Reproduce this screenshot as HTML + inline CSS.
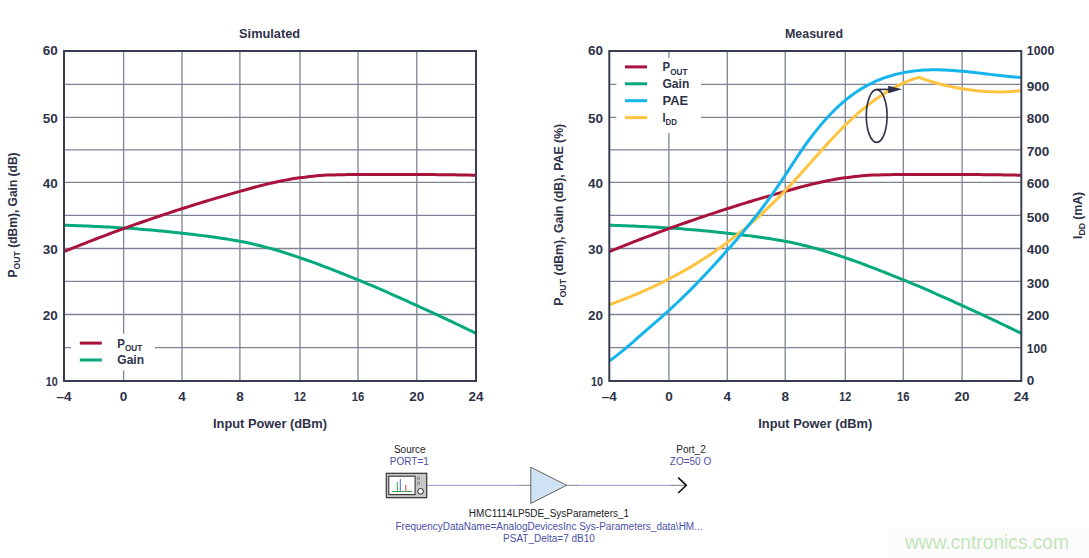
<!DOCTYPE html>
<html><head><meta charset="utf-8"><title>HMC1114 Simulated vs Measured</title>
<style>html,body{margin:0;padding:0;background:#fff;}svg{display:block;}</style>
</head><body>
<svg width="1089" height="558" viewBox="0 0 1089 558">
<rect width="1089" height="558" fill="#ffffff"/>
<defs><clipPath id="c1"><rect x="64.0" y="51.0" width="412.0" height="330.0"/></clipPath><clipPath id="c2"><rect x="609.3" y="51.0" width="412.0" height="330.0"/></clipPath></defs>
<g stroke="#7e8294" stroke-width="1.3" fill="none">
<line x1="123.60" y1="51.00" x2="123.60" y2="381.00"/>
<line x1="182.00" y1="51.00" x2="182.00" y2="381.00"/>
<line x1="239.90" y1="51.00" x2="239.90" y2="381.00"/>
<line x1="300.00" y1="51.00" x2="300.00" y2="381.00"/>
<line x1="358.00" y1="51.00" x2="358.00" y2="381.00"/>
<line x1="416.80" y1="51.00" x2="416.80" y2="381.00"/>
<line x1="64.00" y1="84.40" x2="476.00" y2="84.40"/>
<line x1="64.00" y1="117.40" x2="476.00" y2="117.40"/>
<line x1="64.00" y1="149.90" x2="476.00" y2="149.90"/>
<line x1="64.00" y1="182.40" x2="476.00" y2="182.40"/>
<line x1="64.00" y1="215.40" x2="476.00" y2="215.40"/>
<line x1="64.00" y1="248.50" x2="476.00" y2="248.50"/>
<line x1="64.00" y1="281.30" x2="476.00" y2="281.30"/>
<line x1="64.00" y1="314.50" x2="476.00" y2="314.50"/>
<line x1="64.00" y1="347.60" x2="476.00" y2="347.60"/>
</g>
<g stroke="#7e8294" stroke-width="1.3" fill="none">
<line x1="668.90" y1="51.00" x2="668.90" y2="381.00"/>
<line x1="727.30" y1="51.00" x2="727.30" y2="381.00"/>
<line x1="785.20" y1="51.00" x2="785.20" y2="381.00"/>
<line x1="845.30" y1="51.00" x2="845.30" y2="381.00"/>
<line x1="903.30" y1="51.00" x2="903.30" y2="381.00"/>
<line x1="962.10" y1="51.00" x2="962.10" y2="381.00"/>
<line x1="609.30" y1="84.40" x2="1021.30" y2="84.40"/>
<line x1="609.30" y1="117.40" x2="1021.30" y2="117.40"/>
<line x1="609.30" y1="149.90" x2="1021.30" y2="149.90"/>
<line x1="609.30" y1="182.40" x2="1021.30" y2="182.40"/>
<line x1="609.30" y1="215.40" x2="1021.30" y2="215.40"/>
<line x1="609.30" y1="248.50" x2="1021.30" y2="248.50"/>
<line x1="609.30" y1="281.30" x2="1021.30" y2="281.30"/>
<line x1="609.30" y1="314.50" x2="1021.30" y2="314.50"/>
<line x1="609.30" y1="347.60" x2="1021.30" y2="347.60"/>
</g>
<rect x="71" y="333.7" width="84" height="36.8" fill="#fff"/>
<rect x="616.4" y="57.7" width="84.6" height="75.1" fill="#fff"/>
<g clip-path="url(#c1)">
<path d="M64.00,225.28 L67.46,225.36 L70.92,225.45 L74.39,225.56 L77.85,225.68 L81.31,225.80 L84.77,225.94 L88.24,226.09 L91.70,226.24 L95.16,226.40 L98.62,226.57 L102.08,226.75 L105.55,226.93 L109.01,227.12 L112.47,227.31 L115.93,227.51 L119.39,227.71 L122.86,227.91 L126.32,228.13 L129.78,228.36 L133.24,228.60 L136.71,228.86 L140.17,229.13 L143.63,229.42 L147.09,229.72 L150.55,230.03 L154.02,230.34 L157.48,230.67 L160.94,231.01 L164.40,231.36 L167.87,231.71 L171.33,232.07 L174.79,232.44 L178.25,232.81 L181.71,233.18 L185.18,233.57 L188.64,233.96 L192.10,234.36 L195.56,234.77 L199.03,235.20 L202.49,235.63 L205.95,236.08 L209.41,236.54 L212.87,237.02 L216.34,237.51 L219.80,238.02 L223.26,238.54 L226.72,239.08 L230.18,239.64 L233.65,240.21 L237.11,240.81 L240.57,241.42 L244.03,242.08 L247.50,242.79 L250.96,243.55 L254.42,244.35 L257.88,245.19 L261.34,246.06 L264.81,246.96 L268.27,247.88 L271.73,248.81 L275.19,249.79 L278.66,250.81 L282.12,251.87 L285.58,252.97 L289.04,254.09 L292.50,255.23 L295.97,256.39 L299.43,257.57 L302.89,258.76 L306.35,259.97 L309.82,261.20 L313.28,262.45 L316.74,263.71 L320.20,265.00 L323.66,266.30 L327.13,267.62 L330.59,268.95 L334.05,270.29 L337.51,271.65 L340.97,273.01 L344.44,274.39 L347.90,275.77 L351.36,277.17 L354.82,278.57 L358.29,279.97 L361.75,281.39 L365.21,282.82 L368.67,284.27 L372.13,285.74 L375.60,287.22 L379.06,288.71 L382.52,290.21 L385.98,291.72 L389.45,293.25 L392.91,294.78 L396.37,296.32 L399.83,297.87 L403.29,299.42 L406.76,300.98 L410.22,302.54 L413.68,304.11 L417.14,305.67 L420.61,307.25 L424.07,308.82 L427.53,310.41 L430.99,312.00 L434.45,313.60 L437.92,315.21 L441.38,316.83 L444.84,318.45 L448.30,320.08 L451.76,321.71 L455.23,323.35 L458.69,325.00 L462.15,326.66 L465.61,328.32 L469.08,329.99 L472.54,331.67 L476.00,333.35" fill="none" stroke="#05a97b" stroke-width="3" stroke-linejoin="round" stroke-linecap="butt"/>
<path d="M64.00,251.64 L67.46,250.23 L70.92,248.82 L74.39,247.43 L77.85,246.05 L81.31,244.67 L84.77,243.30 L88.24,241.95 L91.70,240.60 L95.16,239.26 L98.62,237.93 L102.08,236.61 L105.55,235.30 L109.01,234.00 L112.47,232.71 L115.93,231.43 L119.39,230.16 L122.86,228.90 L126.32,227.65 L129.78,226.41 L133.24,225.17 L136.71,223.95 L140.17,222.73 L143.63,221.52 L147.09,220.32 L150.55,219.13 L154.02,217.94 L157.48,216.77 L160.94,215.60 L164.40,214.45 L167.87,213.30 L171.33,212.16 L174.79,211.03 L178.25,209.91 L181.71,208.80 L185.18,207.70 L188.64,206.60 L192.10,205.51 L195.56,204.43 L199.03,203.36 L202.49,202.29 L205.95,201.23 L209.41,200.18 L212.87,199.14 L216.34,198.11 L219.80,197.09 L223.26,196.07 L226.72,195.07 L230.18,194.07 L233.65,193.08 L237.11,192.11 L240.57,191.14 L244.03,190.18 L247.50,189.21 L250.96,188.25 L254.42,187.31 L257.88,186.38 L261.34,185.49 L264.81,184.63 L268.27,183.82 L271.73,183.05 L275.19,182.29 L278.66,181.54 L282.12,180.81 L285.58,180.11 L289.04,179.45 L292.50,178.85 L295.97,178.30 L299.43,177.83 L302.89,177.39 L306.35,176.97 L309.82,176.56 L313.28,176.18 L316.74,175.84 L320.20,175.54 L323.66,175.30 L327.13,175.12 L330.59,175.01 L334.05,174.91 L337.51,174.82 L340.97,174.74 L344.44,174.67 L347.90,174.61 L351.36,174.57 L354.82,174.54 L358.29,174.53 L361.75,174.53 L365.21,174.53 L368.67,174.53 L372.13,174.53 L375.60,174.53 L379.06,174.53 L382.52,174.53 L385.98,174.53 L389.45,174.53 L392.91,174.53 L396.37,174.53 L399.83,174.53 L403.29,174.53 L406.76,174.53 L410.22,174.53 L413.68,174.53 L417.14,174.53 L420.61,174.54 L424.07,174.55 L427.53,174.56 L430.99,174.58 L434.45,174.61 L437.92,174.64 L441.38,174.68 L444.84,174.72 L448.30,174.76 L451.76,174.81 L455.23,174.86 L458.69,174.91 L462.15,174.96 L465.61,175.02 L469.08,175.08 L472.54,175.13 L476.00,175.19" fill="none" stroke="#a8123c" stroke-width="3" stroke-linejoin="round" stroke-linecap="butt"/>
</g>
<g clip-path="url(#c2)">
<path d="M609.30,225.28 L612.76,225.36 L616.22,225.45 L619.69,225.56 L623.15,225.68 L626.61,225.80 L630.07,225.94 L633.54,226.09 L637.00,226.24 L640.46,226.40 L643.92,226.57 L647.38,226.75 L650.85,226.93 L654.31,227.12 L657.77,227.31 L661.23,227.51 L664.69,227.71 L668.16,227.91 L671.62,228.13 L675.08,228.36 L678.54,228.60 L682.01,228.86 L685.47,229.13 L688.93,229.42 L692.39,229.72 L695.85,230.03 L699.32,230.34 L702.78,230.67 L706.24,231.01 L709.70,231.36 L713.17,231.71 L716.63,232.07 L720.09,232.44 L723.55,232.81 L727.01,233.18 L730.48,233.57 L733.94,233.96 L737.40,234.36 L740.86,234.77 L744.33,235.20 L747.79,235.63 L751.25,236.08 L754.71,236.54 L758.17,237.02 L761.64,237.51 L765.10,238.02 L768.56,238.54 L772.02,239.08 L775.48,239.64 L778.95,240.21 L782.41,240.81 L785.87,241.42 L789.33,242.08 L792.80,242.79 L796.26,243.55 L799.72,244.35 L803.18,245.19 L806.64,246.06 L810.11,246.96 L813.57,247.88 L817.03,248.81 L820.49,249.79 L823.96,250.81 L827.42,251.87 L830.88,252.97 L834.34,254.09 L837.80,255.23 L841.27,256.39 L844.73,257.57 L848.19,258.76 L851.65,259.97 L855.12,261.20 L858.58,262.45 L862.04,263.71 L865.50,265.00 L868.96,266.30 L872.43,267.62 L875.89,268.95 L879.35,270.29 L882.81,271.65 L886.27,273.01 L889.74,274.39 L893.20,275.77 L896.66,277.17 L900.12,278.57 L903.59,279.97 L907.05,281.39 L910.51,282.82 L913.97,284.27 L917.43,285.74 L920.90,287.22 L924.36,288.71 L927.82,290.21 L931.28,291.72 L934.75,293.25 L938.21,294.78 L941.67,296.32 L945.13,297.87 L948.59,299.42 L952.06,300.98 L955.52,302.54 L958.98,304.11 L962.44,305.67 L965.91,307.25 L969.37,308.82 L972.83,310.41 L976.29,312.00 L979.75,313.60 L983.22,315.21 L986.68,316.83 L990.14,318.45 L993.60,320.08 L997.06,321.71 L1000.53,323.35 L1003.99,325.00 L1007.45,326.66 L1010.91,328.32 L1014.38,329.99 L1017.84,331.67 L1021.30,333.35" fill="none" stroke="#05a97b" stroke-width="3" stroke-linejoin="round" stroke-linecap="butt"/>
<path d="M609.30,251.64 L612.76,250.23 L616.22,248.82 L619.69,247.43 L623.15,246.05 L626.61,244.67 L630.07,243.30 L633.54,241.95 L637.00,240.60 L640.46,239.26 L643.92,237.93 L647.38,236.61 L650.85,235.30 L654.31,234.00 L657.77,232.71 L661.23,231.43 L664.69,230.16 L668.16,228.90 L671.62,227.65 L675.08,226.41 L678.54,225.17 L682.01,223.95 L685.47,222.73 L688.93,221.52 L692.39,220.32 L695.85,219.13 L699.32,217.94 L702.78,216.77 L706.24,215.60 L709.70,214.45 L713.17,213.30 L716.63,212.16 L720.09,211.03 L723.55,209.91 L727.01,208.80 L730.48,207.70 L733.94,206.60 L737.40,205.51 L740.86,204.43 L744.33,203.36 L747.79,202.29 L751.25,201.23 L754.71,200.18 L758.17,199.14 L761.64,198.11 L765.10,197.09 L768.56,196.07 L772.02,195.07 L775.48,194.07 L778.95,193.08 L782.41,192.11 L785.87,191.14 L789.33,190.18 L792.80,189.21 L796.26,188.25 L799.72,187.31 L803.18,186.38 L806.64,185.49 L810.11,184.63 L813.57,183.82 L817.03,183.05 L820.49,182.29 L823.96,181.54 L827.42,180.81 L830.88,180.11 L834.34,179.45 L837.80,178.85 L841.27,178.30 L844.73,177.83 L848.19,177.39 L851.65,176.97 L855.12,176.56 L858.58,176.18 L862.04,175.84 L865.50,175.54 L868.96,175.30 L872.43,175.12 L875.89,175.01 L879.35,174.91 L882.81,174.82 L886.27,174.74 L889.74,174.67 L893.20,174.61 L896.66,174.57 L900.12,174.54 L903.59,174.53 L907.05,174.53 L910.51,174.53 L913.97,174.53 L917.43,174.53 L920.90,174.53 L924.36,174.53 L927.82,174.53 L931.28,174.53 L934.75,174.53 L938.21,174.53 L941.67,174.53 L945.13,174.53 L948.59,174.53 L952.06,174.53 L955.52,174.53 L958.98,174.53 L962.44,174.53 L965.91,174.54 L969.37,174.55 L972.83,174.56 L976.29,174.58 L979.75,174.61 L983.22,174.64 L986.68,174.68 L990.14,174.72 L993.60,174.76 L997.06,174.81 L1000.53,174.86 L1003.99,174.91 L1007.45,174.96 L1010.91,175.02 L1014.38,175.08 L1017.84,175.13 L1021.30,175.19" fill="none" stroke="#a8123c" stroke-width="3" stroke-linejoin="round" stroke-linecap="butt"/>
<path d="M609.30,304.72 L611.90,303.78 L614.50,302.82 L617.10,301.85 L619.71,300.87 L622.31,299.87 L624.91,298.85 L627.51,297.82 L630.11,296.78 L632.71,295.71 L635.32,294.63 L637.92,293.53 L640.52,292.42 L643.12,291.29 L645.72,290.13 L648.32,288.96 L650.93,287.77 L653.53,286.56 L656.13,285.33 L658.73,284.08 L661.33,282.81 L663.93,281.52 L666.53,280.21 L669.14,278.87 L671.74,277.51 L674.34,276.13 L676.94,274.73 L679.54,273.30 L682.14,271.85 L684.75,270.37 L687.35,268.87 L689.95,267.34 L692.55,265.79 L695.15,264.21 L697.75,262.61 L700.36,260.98 L702.96,259.32 L705.56,257.64 L708.16,255.92 L710.76,254.18 L713.36,252.41 L715.96,250.61 L718.57,248.78 L721.17,246.92 L723.77,245.04 L726.37,243.12 L728.97,241.16 L731.57,239.18 L734.18,237.17 L736.78,235.12 L739.38,233.04 L741.98,230.93 L744.58,228.79 L747.18,226.61 L749.79,224.39 L752.39,222.15 L754.99,219.86 L757.59,217.54 L760.19,215.19 L762.79,212.80 L765.40,210.37 L768.00,207.91 L770.60,205.41 L773.20,202.87 L775.80,200.29 L778.40,197.67 L781.00,195.02 L783.61,192.33 L786.21,189.59 L788.81,186.82 L791.41,184.01 L794.01,181.17 L796.61,178.31 L799.22,175.42 L801.82,172.51 L804.42,169.59 L807.02,166.66 L809.62,163.72 L812.22,160.79 L814.83,157.85 L817.43,154.93 L820.03,152.01 L822.63,149.11 L825.23,146.23 L827.83,143.38 L830.43,140.55 L833.04,137.76 L835.64,135.00 L838.24,132.29 L840.84,129.62 L843.44,127.00 L846.04,124.43 L848.65,121.92 L851.25,119.47 L853.85,117.08 L856.45,114.74 L859.05,112.46 L861.65,110.24 L864.26,108.08 L866.86,105.98 L869.46,103.94 L872.06,101.96 L874.66,100.05 L877.26,98.19 L879.86,96.40 L882.47,94.67 L885.07,93.00 L887.67,91.40 L890.27,89.86 L892.87,88.39 L895.47,86.98 L898.08,85.64 L900.68,84.36 L903.28,83.15 L905.88,82.01 L908.48,80.94 L911.08,79.93 L913.69,78.99 L916.29,78.13 L918.89,77.33 L919.75,77.66 L920.61,77.98 L921.47,78.29 L922.33,78.60 L923.19,78.91 L924.05,79.21 L924.91,79.51 L925.77,79.80 L926.63,80.09 L927.49,80.37 L928.36,80.65 L929.22,80.93 L930.08,81.20 L930.94,81.47 L931.80,81.73 L932.66,81.99 L933.52,82.25 L934.38,82.50 L935.24,82.75 L936.10,82.99 L936.96,83.23 L937.82,83.47 L938.68,83.70 L939.54,83.93 L940.40,84.16 L941.26,84.38 L942.12,84.60 L942.99,84.81 L943.85,85.02 L944.71,85.23 L945.57,85.43 L946.43,85.63 L947.29,85.83 L948.15,86.02 L949.01,86.21 L949.87,86.40 L950.73,86.59 L951.59,86.77 L952.45,86.94 L953.31,87.12 L954.17,87.29 L955.03,87.45 L955.89,87.62 L956.75,87.78 L957.62,87.94 L958.48,88.09 L959.34,88.25 L960.20,88.40 L961.06,88.54 L961.92,88.69 L962.78,88.83 L963.64,88.97 L964.50,89.10 L965.36,89.24 L966.22,89.37 L967.08,89.49 L967.94,89.62 L968.80,89.74 L969.66,89.86 L970.52,89.97 L971.39,90.08 L972.25,90.19 L973.11,90.30 L973.97,90.40 L974.83,90.50 L975.69,90.60 L976.55,90.69 L977.41,90.78 L978.27,90.87 L979.13,90.95 L979.99,91.03 L980.85,91.11 L981.71,91.18 L982.57,91.25 L983.43,91.32 L984.29,91.38 L985.15,91.44 L986.02,91.50 L986.88,91.55 L987.74,91.60 L988.60,91.65 L989.46,91.69 L990.32,91.73 L991.18,91.77 L992.04,91.80 L992.90,91.83 L993.76,91.85 L994.62,91.87 L995.48,91.89 L996.34,91.90 L997.20,91.91 L998.06,91.92 L998.92,91.92 L999.78,91.92 L1000.65,91.91 L1001.51,91.91 L1002.37,91.89 L1003.23,91.87 L1004.09,91.85 L1004.95,91.83 L1005.81,91.80 L1006.67,91.76 L1007.53,91.73 L1008.39,91.68 L1009.25,91.64 L1010.11,91.59 L1010.97,91.53 L1011.83,91.48 L1012.69,91.41 L1013.55,91.35 L1014.42,91.27 L1015.28,91.20 L1016.14,91.12 L1017.00,91.03 L1017.86,90.95 L1018.72,90.85 L1019.58,90.75 L1020.44,90.65 L1021.30,90.55" fill="none" stroke="#fec43f" stroke-width="3" stroke-linejoin="round" stroke-linecap="butt"/>
<path d="M609.30,361.04 L612.76,358.54 L616.22,355.91 L619.69,353.19 L623.15,350.37 L626.61,347.48 L630.07,344.52 L633.54,341.52 L637.00,338.49 L640.46,335.43 L643.92,332.38 L647.38,329.33 L650.85,326.30 L654.31,323.29 L657.77,320.28 L661.23,317.26 L664.69,314.21 L668.16,311.11 L671.62,307.95 L675.08,304.74 L678.54,301.47 L682.01,298.15 L685.47,294.77 L688.93,291.34 L692.39,287.86 L695.85,284.33 L699.32,280.76 L702.78,277.13 L706.24,273.47 L709.70,269.76 L713.17,266.01 L716.63,262.21 L720.09,258.38 L723.55,254.52 L727.01,250.62 L730.48,246.68 L733.94,242.71 L737.40,238.69 L740.86,234.62 L744.33,230.50 L747.79,226.31 L751.25,222.05 L754.71,217.71 L758.17,213.29 L761.64,208.78 L765.10,204.17 L768.56,199.47 L772.02,194.65 L775.48,189.71 L778.95,184.65 L782.41,179.47 L785.87,174.20 L789.33,168.88 L792.80,163.57 L796.26,158.30 L799.72,153.13 L803.18,148.09 L806.64,143.22 L810.11,138.51 L813.57,133.96 L817.03,129.59 L820.49,125.38 L823.96,121.34 L827.42,117.47 L830.88,113.78 L834.34,110.26 L837.80,106.91 L841.27,103.75 L844.73,100.76 L848.19,97.95 L851.65,95.31 L855.12,92.85 L858.58,90.54 L862.04,88.39 L865.50,86.39 L868.96,84.54 L872.43,82.82 L875.89,81.23 L879.35,79.77 L882.81,78.43 L886.27,77.20 L889.74,76.08 L893.20,75.07 L896.66,74.16 L900.12,73.35 L903.59,72.63 L907.05,72.01 L910.51,71.47 L913.97,71.01 L917.43,70.63 L920.90,70.33 L924.36,70.10 L927.82,69.94 L931.28,69.85 L934.75,69.81 L938.21,69.83 L941.67,69.90 L945.13,70.03 L948.59,70.19 L952.06,70.40 L955.52,70.65 L958.98,70.93 L962.44,71.25 L965.91,71.58 L969.37,71.95 L972.83,72.33 L976.29,72.72 L979.75,73.13 L983.22,73.55 L986.68,73.96 L990.14,74.38 L993.60,74.80 L997.06,75.21 L1000.53,75.60 L1003.99,75.99 L1007.45,76.35 L1010.91,76.69 L1014.38,77.01 L1017.84,77.29 L1021.30,77.54" fill="none" stroke="#15b4ec" stroke-width="3" stroke-linejoin="round" stroke-linecap="butt"/>
</g>
<rect x="64.00" y="51.00" width="412.00" height="330.00" fill="none" stroke="#3a3e54" stroke-width="2"/>
<rect x="609.30" y="51.00" width="412.00" height="330.00" fill="none" stroke="#3a3e54" stroke-width="2"/>
<ellipse cx="876.7" cy="116" rx="10.4" ry="26.4" fill="none" stroke="#2c2f45" stroke-width="1.6"/>
<line x1="876.5" y1="89.4" x2="890" y2="89.4" stroke="#2c2f45" stroke-width="1.6"/>
<path d="M888.2,85.8 L902,89.3 L888.2,93.2 Z" fill="#2c2f45"/>
<g font-family="Liberation Sans, Arial, sans-serif" font-weight="bold" fill="#2e3248">
<text x="269.60" y="37.80" font-size="13" text-anchor="middle" textLength="61" lengthAdjust="spacingAndGlyphs">Simulated</text>
<text x="814.00" y="37.70" font-size="13" text-anchor="middle" textLength="58" lengthAdjust="spacingAndGlyphs">Measured</text>
<text x="57.80" y="55.25" font-size="13.5" text-anchor="end">60</text>
<text x="57.80" y="122.95" font-size="13.5" text-anchor="end">50</text>
<text x="57.80" y="187.95" font-size="13.5" text-anchor="end">40</text>
<text x="57.80" y="254.35" font-size="13.5" text-anchor="end">30</text>
<text x="57.80" y="320.25" font-size="13.5" text-anchor="end">20</text>
<text x="57.80" y="385.75" font-size="13.5" text-anchor="end" textLength="12.0" lengthAdjust="spacingAndGlyphs">10</text>
<text x="64.00" y="401.20" font-size="13.5" text-anchor="middle">&#8211;4</text>
<text x="123.60" y="401.20" font-size="13.5" text-anchor="middle">0</text>
<text x="182.00" y="401.20" font-size="13.5" text-anchor="middle">4</text>
<text x="239.90" y="401.20" font-size="13.5" text-anchor="middle">8</text>
<text x="300.00" y="401.20" font-size="13.5" text-anchor="middle" textLength="12.0" lengthAdjust="spacingAndGlyphs">12</text>
<text x="358.00" y="401.20" font-size="13.5" text-anchor="middle" textLength="12.5" lengthAdjust="spacingAndGlyphs">16</text>
<text x="416.80" y="401.20" font-size="13.5" text-anchor="middle">20</text>
<text x="476.00" y="401.20" font-size="13.5" text-anchor="middle">24</text>
<text x="270.00" y="427.90" font-size="12.5" text-anchor="middle" textLength="114" lengthAdjust="spacingAndGlyphs">Input Power (dBm)</text>
<text x="603.10" y="55.25" font-size="13.5" text-anchor="end">60</text>
<text x="603.10" y="122.95" font-size="13.5" text-anchor="end">50</text>
<text x="603.10" y="187.95" font-size="13.5" text-anchor="end">40</text>
<text x="603.10" y="254.35" font-size="13.5" text-anchor="end">30</text>
<text x="603.10" y="320.25" font-size="13.5" text-anchor="end">20</text>
<text x="603.10" y="385.75" font-size="13.5" text-anchor="end" textLength="12.0" lengthAdjust="spacingAndGlyphs">10</text>
<text x="609.30" y="401.20" font-size="13.5" text-anchor="middle">&#8211;4</text>
<text x="668.90" y="401.20" font-size="13.5" text-anchor="middle">0</text>
<text x="727.30" y="401.20" font-size="13.5" text-anchor="middle">4</text>
<text x="785.20" y="401.20" font-size="13.5" text-anchor="middle">8</text>
<text x="845.30" y="401.20" font-size="13.5" text-anchor="middle" textLength="12.0" lengthAdjust="spacingAndGlyphs">12</text>
<text x="903.30" y="401.20" font-size="13.5" text-anchor="middle" textLength="12.5" lengthAdjust="spacingAndGlyphs">16</text>
<text x="962.10" y="401.20" font-size="13.5" text-anchor="middle">20</text>
<text x="1021.30" y="401.20" font-size="13.5" text-anchor="middle">24</text>
<text x="815.30" y="427.90" font-size="12.5" text-anchor="middle" textLength="114" lengthAdjust="spacingAndGlyphs">Input Power (dBm)</text>
<text x="1026.80" y="55.45" font-size="13.5" text-anchor="start" textLength="27.5" lengthAdjust="spacingAndGlyphs">1000</text>
<text x="1026.80" y="90.85" font-size="13.5" text-anchor="start">900</text>
<text x="1026.80" y="123.35" font-size="13.5" text-anchor="start">800</text>
<text x="1026.80" y="155.75" font-size="13.5" text-anchor="start">700</text>
<text x="1026.80" y="187.95" font-size="13.5" text-anchor="start">600</text>
<text x="1026.80" y="221.75" font-size="13.5" text-anchor="start">500</text>
<text x="1026.80" y="253.85" font-size="13.5" text-anchor="start">400</text>
<text x="1026.80" y="287.85" font-size="13.5" text-anchor="start">300</text>
<text x="1026.80" y="320.05" font-size="13.5" text-anchor="start">200</text>
<text x="1026.80" y="353.45" font-size="13.5" text-anchor="start" textLength="20.2" lengthAdjust="spacingAndGlyphs">100</text>
<text x="1026.80" y="385.25" font-size="13.5" text-anchor="start">0</text>
<text transform="translate(17.3,277.4) rotate(-90)" font-size="12.5" textLength="125" lengthAdjust="spacingAndGlyphs">P<tspan font-size="9" dy="3">OUT</tspan><tspan dy="-3"> (dBm), Gain (dB)</tspan></text>
<text transform="translate(562.5,305.8) rotate(-90)" font-size="12.5" textLength="182" lengthAdjust="spacingAndGlyphs">P<tspan font-size="9" dy="3">OUT</tspan><tspan dy="-3"> (dBm), Gain (dB), PAE (%)</tspan></text>
<text transform="translate(1082,239) rotate(-90)" font-size="12.5" textLength="47" lengthAdjust="spacingAndGlyphs">I<tspan font-size="9" dy="3">DD</tspan><tspan dy="-3"> (mA)</tspan></text>
<line x1="79.8" y1="343.10" x2="101.8" y2="343.10" stroke="#a8123c" stroke-width="3"/>
<text x="117.3" y="347.50" font-size="12.5" textLength="25.0" lengthAdjust="spacingAndGlyphs">P<tspan font-size="9" dy="3.3">OUT</tspan></text>
<line x1="79.8" y1="360.00" x2="101.8" y2="360.00" stroke="#05a97b" stroke-width="3"/>
<text x="117.3" y="364.40" font-size="12.5" textLength="26.8" lengthAdjust="spacingAndGlyphs">Gain</text>
<line x1="625.0" y1="66.90" x2="647.0" y2="66.90" stroke="#a8123c" stroke-width="3"/>
<text x="662.5" y="71.30" font-size="12.5" textLength="25.0" lengthAdjust="spacingAndGlyphs">P<tspan font-size="9" dy="3.3">OUT</tspan></text>
<line x1="625.0" y1="83.80" x2="647.0" y2="83.80" stroke="#05a97b" stroke-width="3"/>
<text x="662.5" y="88.20" font-size="12.5" textLength="26.8" lengthAdjust="spacingAndGlyphs">Gain</text>
<line x1="625.0" y1="100.70" x2="647.0" y2="100.70" stroke="#15b4ec" stroke-width="3"/>
<text x="662.5" y="105.10" font-size="12.5" textLength="25.6" lengthAdjust="spacingAndGlyphs">PAE</text>
<line x1="625.0" y1="117.60" x2="647.0" y2="117.60" stroke="#fec43f" stroke-width="3"/>
<text x="662.5" y="122.00" font-size="12.5" textLength="14.6" lengthAdjust="spacingAndGlyphs">I<tspan font-size="9" dy="3.3">DD</tspan></text>
</g>
<line x1="427" y1="485.3" x2="518" y2="485.3" stroke="#9c94c8" stroke-width="1"/>
<line x1="518" y1="485.3" x2="531" y2="485.3" stroke="#808080" stroke-width="1"/>
<line x1="566" y1="485.3" x2="579" y2="485.3" stroke="#808080" stroke-width="1"/>
<line x1="579" y1="485.3" x2="670" y2="485.3" stroke="#9c94c8" stroke-width="1"/>
<line x1="670" y1="485.3" x2="685" y2="485.3" stroke="#808080" stroke-width="1"/>
<rect x="386.3" y="473.3" width="40.4" height="24.4" fill="#c8c8c8" stroke="#333" stroke-width="1.2"/>
<rect x="388.8" y="476.2" width="26.3" height="18.4" fill="#fff" stroke="#333" stroke-width="1.1"/>
<line x1="392" y1="491.5" x2="412" y2="491.5" stroke="#3aa64a" stroke-width="1"/>
<line x1="397.3" y1="482" x2="397.3" y2="491.5" stroke="#3aa64a" stroke-width="1"/>
<line x1="400.3" y1="479" x2="400.3" y2="491.5" stroke="#4a64c8" stroke-width="1"/>
<line x1="405.8" y1="485" x2="405.8" y2="491.5" stroke="#e04040" stroke-width="1"/>
<rect x="417.5" y="477.2" width="2.2" height="2.2" fill="none" stroke="#777" stroke-width="0.6"/>
<rect x="417.5" y="482" width="2.2" height="2.2" fill="none" stroke="#777" stroke-width="0.6"/>
<circle cx="420.6" cy="491.3" r="2.8" fill="#fff" stroke="#222" stroke-width="1"/>
<path d="M530.8,467.2 L566.6,485.3 L530.8,503.4 Z" fill="#cfe3f5" stroke="#555" stroke-width="0.9"/>
<path d="M678.2,477.7 L686.3,485.3 L678.2,493" fill="none" stroke="#111" stroke-width="1.6"/>
<g font-family="Liberation Sans, Arial, sans-serif" font-size="10">
<text x="409.8" y="453.2" text-anchor="middle" fill="#222">Source</text>
<text x="409.3" y="465" text-anchor="middle" fill="#4b4fa8">PORT=1</text>
<text x="691" y="453.2" text-anchor="middle" fill="#222">Port_2</text>
<text x="690.5" y="465" text-anchor="middle" fill="#4b4fa8">ZO=50 O</text>
<text x="549" y="517" text-anchor="middle" fill="#222">HMC1114LP5DE_SysParameters_1</text>
<text x="549" y="529.6" text-anchor="middle" fill="#4b4fa8">FrequencyDataName=AnalogDevicesInc Sys-Parameters_data\HM...</text>
<text x="549" y="542.3" text-anchor="middle" fill="#4b4fa8">PSAT_Delta=7 dB10</text>
</g>
<rect x="889" y="528" width="200" height="30" fill="#fcfcfc"/>
<text x="905" y="548.6" font-family="Liberation Sans, Arial, sans-serif" font-size="20" fill="#c3e6bb" textLength="164" lengthAdjust="spacingAndGlyphs">www.cntronics.com</text>
</svg>
</body></html>
